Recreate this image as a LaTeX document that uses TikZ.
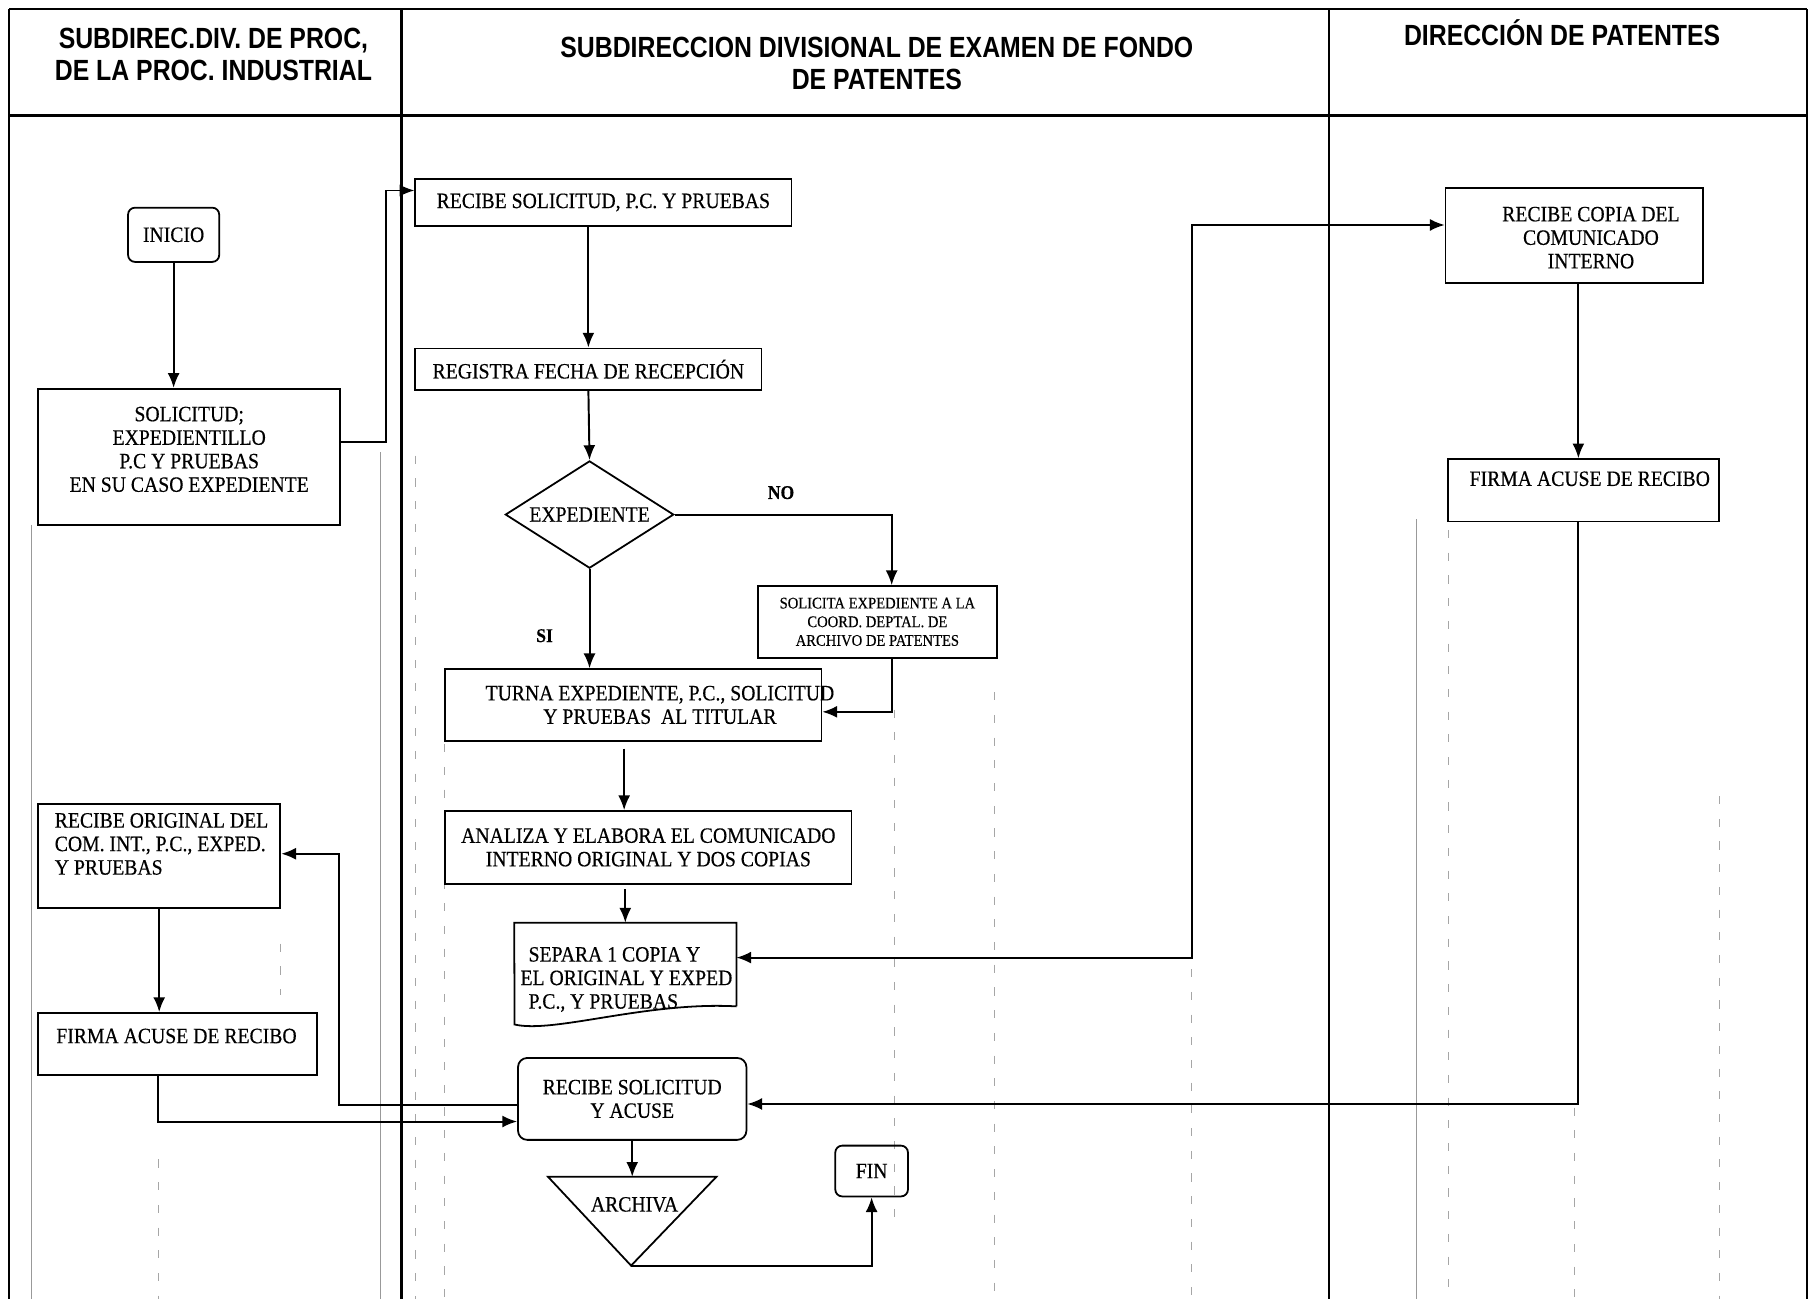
\documentclass[tikz,border=0pt]{standalone}
\usepackage{fontspec}
\setmainfont{Liberation Serif}[FakeStretch=0.9, FakeBold=0.4]
\newfontfamily\hdrfont{Liberation Sans}[FakeStretch=0.85]
\usetikzlibrary{positioning, calc, shapes.geometric, arrows.meta}

\tikzset{
  proc/.style={draw, line width=1.1pt, inner sep=1.5pt},
  term/.style={proc, rounded corners=1.5mm},
  txt/.style={font=\fontsize{13.5}{14.5}\selectfont, align=center},
  smalltxt/.style={font=\fontsize{10}{11.5}\selectfont, align=center},
  lbl/.style={font=\bfseries\fontsize{12}{14}\selectfont},
  hdr/.style={font=\hdrfont\bfseries\fontsize{18}{20}\selectfont, align=center},
  arr/.style={line width=1.2pt, -{Latex[length=3.2mm,width=2.6mm]}},
  arrboth/.style={line width=1.2pt, {Latex[length=3.2mm,width=2.6mm]}-{Latex[length=3.2mm,width=2.6mm]}},
  guide/.style={gray!70, line width=0.4pt, dash pattern=on 5pt off 9pt},
  faint/.style={gray!80, line width=0.5pt},
}

\begin{document}
\begin{tikzpicture}[x=0.25mm, y=-0.25mm]
  \useasboundingbox (0,0) rectangle (1568,1126);

  % marcas del escaneo
  \foreach \gx/\ya/\yb in {137/1005/1126, 243/818/862, 360/395/1126, 385/645/1126,
      775/615/1060, 862/600/1126, 1033/840/1126, 1255/420/1126, 1365/960/1126, 1490/690/1126}
    \draw[guide] (\gx,\ya) -- (\gx,\yb);
  \foreach \gx/\ya in {27/455, 330/392, 1228/450}
    \draw[faint] (\gx,\ya) -- (\gx,1126);

  % marco y columnas
  \draw[line width=1.2pt] (8,8) -- (1566,8);
  \draw[line width=2pt] (8,100) -- (1566,100);
  \draw[line width=1.2pt] (8,8) -- (8,1126);
  \draw[line width=1.4pt] (348,8) -- (348,1126);
  \draw[line width=0.8pt] (1152,8) -- (1152,1126);
  \draw[line width=1pt] (1566,8) -- (1566,1126);

  \node[hdr] (h1) at (185,47) {SUBDIREC.DIV. DE PROC,\\DE LA PROC. INDUSTRIAL};
  \node[hdr] (h2) at (760,55) {SUBDIRECCION DIVISIONAL DE EXAMEN DE FONDO\\DE PATENTES};
  \node[hdr] (h3) at (1354,28) {DIRECCIÓN DE PATENTES};

  % columna izquierda
  \node[term, txt, minimum width=19.75mm, minimum height=11.75mm] (inicio) at (150.5,203.5) {INICIO};
  \node[proc, minimum width=65.5mm, minimum height=29.5mm] (sol) at (164,396) {};
  \node[txt] (soltxt) at (164,389.5) {SOLICITUD;\\EXPEDIENTILLO\\P.C Y PRUEBAS\\EN SU CASO EXPEDIENTE};
  \node[proc, minimum width=52.5mm, minimum height=22.5mm] (rod) at (138,742) {};
  \node[txt, align=left] (rodtxt) at (140,731.5) {RECIBE ORIGINAL DEL\\COM. INT., P.C., EXPED.\\Y PRUEBAS};
  \node[proc, minimum width=60.5mm, minimum height=13.5mm] (firmaL) at (154,905) {};
  \node[txt] (firmaLtxt) at (153,898) {FIRMA ACUSE DE RECIBO};

  % columna central
  \node[proc, txt, minimum width=81.5mm, minimum height=10.25mm] (recsol) at (523,175.5) {RECIBE SOLICITUD, P.C. Y PRUEBAS};
  \node[proc, txt, minimum width=75mm, minimum height=9mm] (registra) at (510,320) {REGISTRA FECHA DE RECEPCIÓN};
  \node[draw, diamond, aspect=1.6, line width=1.1pt, txt, inner sep=0pt, minimum width=36.5mm, minimum height=23.25mm] (expe) at (511,446) {EXPEDIENTE};
  \node[proc, smalltxt, minimum width=51.75mm, minimum height=15.5mm] (solicita) at (760.5,539)
    {SOLICITA EXPEDIENTE A LA\\COORD. DEPTAL. DE\\ARCHIVO DE PATENTES};
  \node[proc, minimum width=81.5mm, minimum height=15.5mm] (turna) at (549,611) {};
  \node[txt] (turnatxt) at (572,611) {TURNA EXPEDIENTE, P.C., SOLICITUD\\Y PRUEBAS\ \ AL TITULAR};
  \node[proc, txt, minimum width=88mm, minimum height=15.75mm] (analiza) at (562,734.5)
    {ANALIZA Y ELABORA EL COMUNICADO\\INTERNO ORIGINAL Y DOS COPIAS};
  \node[minimum width=48mm, minimum height=18mm, inner sep=0pt] (separa) at (542,836) {};
  \draw[line width=1.1pt] (separa.south east) -- (separa.north east) -- (separa.north west) -- (446,888)
    .. controls (480,896) and (560,868) .. (separa.south east);
  \node[txt, align=left] (separatxt) at (543,849) {\hspace{1.75mm}SEPARA 1 COPIA Y\\EL ORIGINAL Y EXPED\\\hspace{1.75mm}P.C., Y PRUEBAS};
  \node[term, txt, rounded corners=2mm, minimum width=49.5mm, minimum height=17.75mm] (rsya) at (548,952.5) {RECIBE SOLICITUD\\Y ACUSE};
  \coordinate (archTL) at (475,1020);
  \coordinate (archTR) at (621,1020);
  \coordinate (archT) at (548,1020);
  \coordinate (archB) at (547,1097);
  \draw[line width=1.1pt] (archTL) -- (archTR) -- (archB) -- cycle;
  \node[txt] (archtxt) at (550,1044) {ARCHIVA};
  \node[term, txt, minimum width=15.75mm, minimum height=11mm] (fin) at (755.5,1015) {FIN};
  \node[lbl] (no) at (677,427) {NO};
  \node[lbl] (si) at (472,551) {SI};

  % columna derecha
  \node[proc, minimum width=55.75mm, minimum height=20.5mm] (reccop) at (1364.5,204) {};
  \node[txt] (reccoptxt) at (1379,206) {RECIBE COPIA DEL\\COMUNICADO\\INTERNO};
  \node[proc, minimum width=58.75mm, minimum height=13.5mm] (firmaR) at (1372.5,425) {};
  \node[txt] (firmaRtxt) at (1378,415) {FIRMA ACUSE DE RECIBO};

  % conectores
  \draw[arr] (inicio.south) -- (inicio.south |- sol.north);
  \draw[arr] ([yshift=3.25mm]sol.east) -- ++(39,0) |- ([yshift=2.6mm]recsol.west);
  \draw[arr] (registra.north |- recsol.south) -- (registra.north);
  \draw[arr] (registra.south) -- (expe.north);
  \draw[arr] (expe.east) -| ([xshift=3.1mm]solicita.north);
  \draw[arr] (expe.south) -- (expe.south |- turna.north);
  \draw[arr] ([xshift=3.1mm]solicita.south) |- ([yshift=-1.5mm]turna.east);
  \draw[arr] ([xshift=-2mm,yshift=-1.5mm]turna.south) -- ([xshift=-2mm]turna.south |- analiza.north);
  \draw[arr] ([yshift=-1mm]separa.north |- analiza.south) -- (separa.north);
  \draw[arrboth] ([yshift=1.5mm]separa.east) -- ++(395,0) |- ([yshift=2.25mm]reccop.west);
  \draw[arr] ([xshift=0.9mm]reccop.south) -- ([xshift=0.9mm]reccop.south |- firmaR.north);
  \draw[arr] ([xshift=-1.1mm]firmaR.south) |- ([yshift=-1.1mm]rsya.east);
  \draw[arr] ([yshift=-1.4mm]rsya.west) -- ++(-154,0) |- ([yshift=0.5mm]rod.east);
  \draw[arr] (rod.south) -- (rod.south |- firmaL.north);
  \draw[arr] ([xshift=-4.25mm]firmaL.south) |- ([yshift=-4.9mm]rsya.west);
  \draw[arr] (rsya.south) -- (archT);
  \draw[arr] (archB) -| (fin.south);
\end{tikzpicture}
\end{document}
